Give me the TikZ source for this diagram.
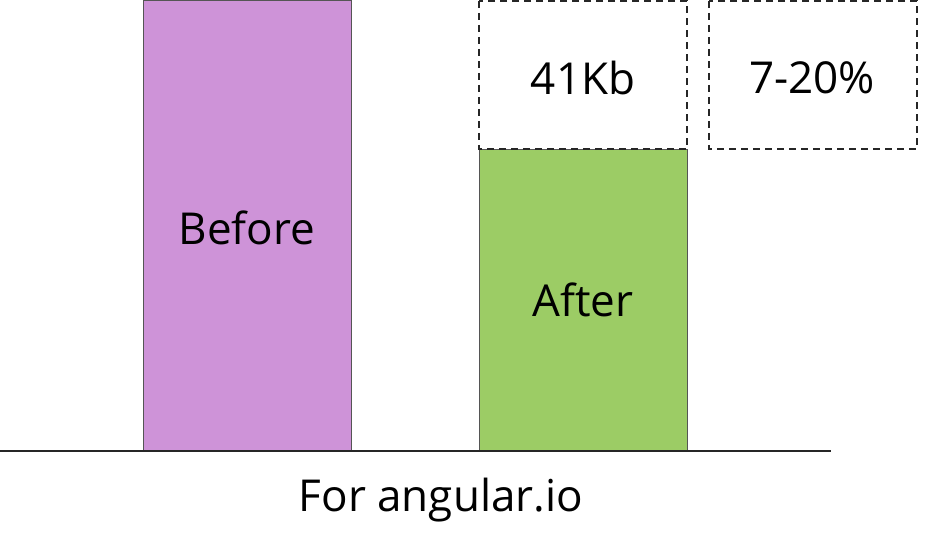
\documentclass[tikz,border=0pt]{standalone}
\usepackage{fontspec}
\setmainfont{Open Sans}
\definecolor{barpurple}{HTML}{CE93D8}
\definecolor{bargreen}{HTML}{9CCC65}
\definecolor{edgegray}{HTML}{555555}
\begin{document}
\begin{tikzpicture}[x=1pt,y=-1pt,
  bar/.style={draw=edgegray,line width=0.6pt},
  dashbox/.style={draw=black!85,dash pattern=on 7pt off 5pt,line width=1.5pt},
  lbl/.style={font=\fontsize{44}{52}\selectfont,inner sep=0pt}]
\useasboundingbox (0,0) rectangle (928,537);
\draw[bar,fill=barpurple] (143,0) rectangle (351,450);
\draw[bar,fill=bargreen] (479,149) rectangle (687,450);
\draw[dashbox] (479,1) rectangle (687,149);
\draw[dashbox] (709,1) rectangle (917,149);
\coordinate (axl) at (0,451);
\coordinate (axr) at (831,451);
\draw[line width=1.5pt,black!85] (axl) -- (axr);
\node[lbl] (before) at (247,228) {Before};
\node[lbl] (after) at (583,300) {After};
\node[lbl] (kb) at (583,78) {41Kb};
\node[lbl] (pct) at (812,78) {7-20\%};
\node[lbl] (cap) at (441,500) {For angular.io};
\end{tikzpicture}
\end{document}
